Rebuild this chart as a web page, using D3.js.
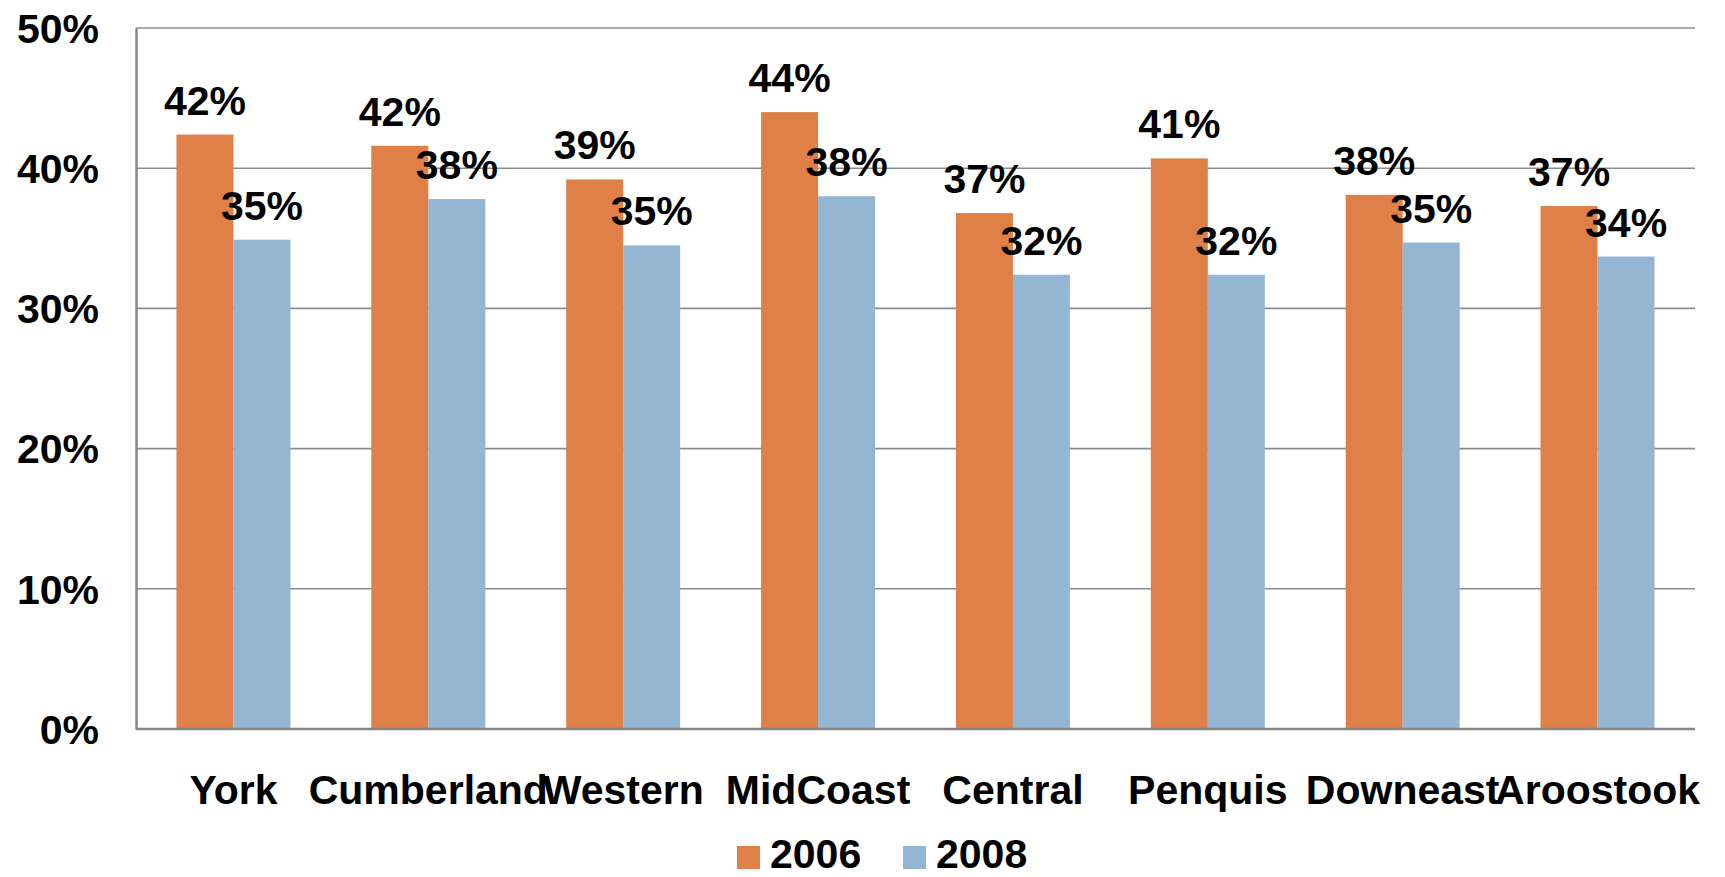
<!DOCTYPE html>
<html>
<head>
<meta charset="utf-8">
<script src="https://cdn.jsdelivr.net/npm/d3@7"></script>
<style>
  html, body { margin: 0; padding: 0; background: #ffffff; }
  svg { display: block; }
  text { font-family: "Liberation Sans", Arial, sans-serif; font-weight: bold; fill: #000; }
</style>
</head>
<body>
<svg id="chart" width="1725" height="877"></svg>
<script>
// Regions and share by survey year
const regions = ["York", "Cumberland", "Western", "MidCoast", "Central", "Penquis", "Downeast", "Aroostook"];
const series = ["2006", "2008"];
const values2006 = [42.4, 41.6, 39.2, 44.0, 36.8, 40.7, 38.1, 37.3];
const values2008 = [34.9, 37.8, 34.5, 38.0, 32.4, 32.4, 34.7, 33.7];
const yTicks = [0, 10, 20, 30, 40, 50];
const colors = ["#DE8048", "#95B6D3"];

const svg = d3.select("#chart");
const margin = { left: 136, right: 30, top: 28, bottom: 148 };
const W = 1725, H = 877;
const plotBottom = H - margin.bottom;

const y = d3.scaleLinear().domain([0, 50]).range([plotBottom, margin.top]);
const x0 = d3.scaleBand().domain(regions)
  .range([margin.left, W - margin.right])
  .paddingInner(0.415).paddingOuter(0.2075);
const x1 = d3.scaleBand().domain(series).range([0, x0.bandwidth()]);

const fmt = v => Math.round(v) + "%";
const rows = regions.map((r, i) => ({ region: r, vals: [values2006[i], values2008[i]] }));

// Horizontal gridlines
svg.append("g")
  .selectAll("line")
  .data(yTicks.filter(t => t > 0))
  .join("line")
  .attr("x1", margin.left).attr("x2", W - margin.right)
  .attr("y1", d => y(d)).attr("y2", d => y(d))
  .attr("stroke", "#8c8c8c").attr("stroke-width", 1.6);

// Bars
const groups = svg.append("g")
  .selectAll("g")
  .data(rows)
  .join("g")
  .attr("transform", d => `translate(${x0(d.region)},0)`);

groups.selectAll("rect")
  .data(d => d.vals.map((v, j) => ({ key: series[j], v, j })))
  .join("rect")
  .attr("x", d => x1(d.key))
  .attr("width", x1.bandwidth())
  .attr("y", d => y(d.v))
  .attr("height", d => plotBottom - y(d.v))
  .attr("fill", d => colors[d.j]);

// Value labels
groups.selectAll("text.val")
  .data(d => d.vals.map((v, j) => ({ key: series[j], v, j })))
  .join("text")
  .attr("class", "val")
  .attr("x", d => x1(d.key) + x1.bandwidth() / 2)
  .attr("y", d => y(d.v) - 20)
  .attr("text-anchor", "middle")
  .attr("font-size", 41)
  .text(d => fmt(d.v));

// Y axis
const yAxis = svg.append("g")
  .attr("transform", `translate(${margin.left},0)`)
  .call(d3.axisLeft(y).tickValues(yTicks).tickSize(0).tickPadding(37).tickFormat(d => d + "%"));
yAxis.select(".domain").attr("stroke", "#878787").attr("stroke-width", 2.5);
yAxis.selectAll("text")
  .attr("font-size", 41)
  .attr("font-family", "Liberation Sans, Arial, sans-serif")
  .attr("font-weight", "bold")
  .attr("fill", "#000")
  .attr("dy", "0.35em");

// X axis
const xAxis = svg.append("g")
  .attr("transform", `translate(0,${plotBottom})`)
  .call(d3.axisBottom(x0).tickSize(0).tickPadding(46));
xAxis.select(".domain").attr("stroke", "#878787").attr("stroke-width", 2.5)
  .attr("d", `M${margin.left},0H${W - margin.right}`);
xAxis.selectAll("text")
  .attr("font-size", 41)
  .attr("font-family", "Liberation Sans, Arial, sans-serif")
  .attr("font-weight", "bold")
  .attr("fill", "#000")
  .attr("dy", "0.71em");

// Legend
const legendX = [737, 903];
const legend = svg.append("g")
  .selectAll("g")
  .data(series)
  .join("g")
  .attr("transform", (d, i) => `translate(${legendX[i]},846)`);
legend.append("rect")
  .attr("width", 23).attr("height", 23)
  .attr("fill", (d, i) => colors[i]);
legend.append("text")
  .attr("x", 33).attr("y", 22)
  .attr("font-size", 41)
  .text(d => d);
</script>
</body>
</html>
